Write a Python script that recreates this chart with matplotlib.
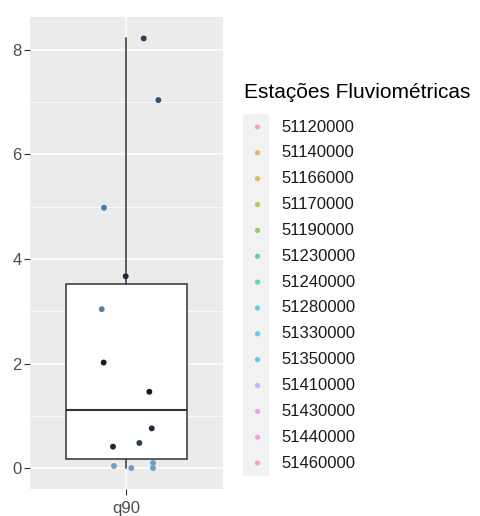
import numpy as np
import matplotlib; matplotlib.use('Agg')
import matplotlib.pyplot as plt
from matplotlib.patches import Rectangle

plt.rcParams['font.family'] = ['Liberation Sans', 'DejaVu Sans']

# q90 values per station and their jitter offsets
q90 = [8.22, 7.04, 4.98, 3.67, 3.04, 2.02, 1.46, 0.76, 0.48, 0.41, 0.04, 0.00, 0.10, 0.00]
jitter = [0.107, 0.198, -0.140, -0.005, -0.154, -0.142, 0.142, 0.157, 0.080, -0.084, -0.078, 0.030, 0.165, 0.165]
pt_colors = ['#2b405c', '#33506f', '#4f7aa0', '#1e2b3a', '#5580a6', '#141b24', '#141b24',
             '#1b2a3a', '#2a3d50', '#1a2633', '#6a9fcc', '#6a9fcc', '#6a9fcc', '#6a9fcc']

stations = ['51120000', '51140000', '51166000', '51170000', '51190000', '51230000', '51240000',
            '51280000', '51330000', '51350000', '51410000', '51430000', '51440000', '51460000']
hue = ['#F8766D', '#E38900', '#C49A00', '#99A800', '#53B400', '#00BC56', '#00C094',
       '#00BFC4', '#00B6EB', '#06A4FF', '#A58AFF', '#DF70F8', '#FB61D7', '#FF66A8']
category = 'q90'

W, H = 480, 516
fig = plt.figure(figsize=(W/100, H/100), dpi=100)
ax = fig.add_axes([30/W, 1-489/H, (223-30)/W, (489-17)/H])
ax.set_facecolor('#EBEBEB')
for s in ax.spines.values(): s.set_visible(False)

ax.boxplot([q90], positions=[1], widths=0.75, whis=1.5, showfliers=False, showcaps=False,
           patch_artist=True,
           boxprops=dict(facecolor='white', edgecolor='#333333', lw=1.1),
           medianprops=dict(color='#333333', lw=1.5),
           whiskerprops=dict(color='#333333', lw=1.1), zorder=2)
ax.scatter(1 + np.array(jitter), q90, s=18, c=pt_colors, edgecolors='none', zorder=3)

ax.set_xlim(0.4, 1.6); ax.set_ylim(-0.40, 8.63)
ax.set_yticks([0, 2, 4, 6, 8]); ax.set_yticks([1, 3, 5, 7], minor=True)
ax.set_xticks([1]); ax.set_xticklabels([category])
ax.grid(True, which='major', color='white', lw=1.1)
ax.grid(True, which='minor', axis='y', color='white', lw=0.55)
ax.set_axisbelow(True)
ax.tick_params(axis='both', which='major', colors='#333333', labelcolor='#4D4D4D',
               labelsize=12, length=4, width=0.8, pad=2)
ax.tick_params(axis='x', pad=5)
ax.tick_params(which='minor', length=0)

# legend drawn in pixel space
lg = fig.add_axes([0, 0, 1, 1]); lg.set_xlim(0, W); lg.set_ylim(H, 0); lg.axis('off')
lg.text(244, 92, 'Estações Fluviométricas', fontsize=15, va='center', ha='left', color='black')
y0, dy = 127, 25.85
lg.add_patch(Rectangle((243, y0 - dy/2), 26, dy*len(stations), color='#F2F2F2', lw=0))
for i, (st, c) in enumerate(zip(stations, hue)):
    y = y0 + i*dy
    lg.scatter([257.5], [y], s=14, color=c, alpha=0.6, edgecolors='none')
    lg.text(281, y, st, fontsize=12, va='center', ha='left', color='#1A1A1A')

fig.savefig('out.png', dpi=100)
